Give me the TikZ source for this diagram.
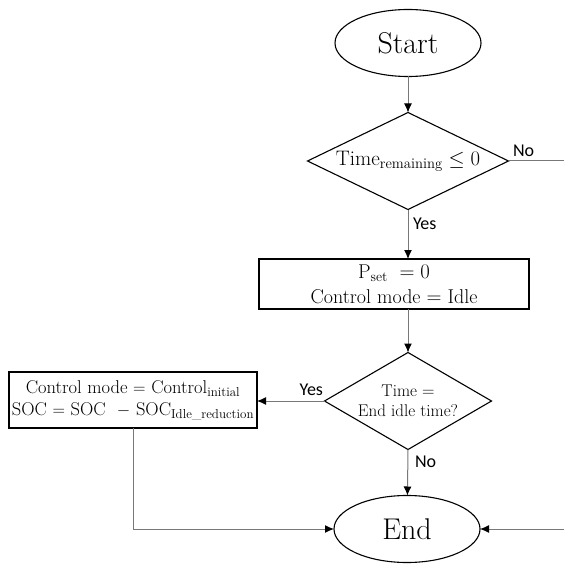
\documentclass[tikz,border=0pt]{standalone}
\usepackage{fontspec}
\usepackage{amsmath}
\newfontfamily\lblfont{Carlito}
\usetikzlibrary{shapes.geometric,arrows.meta}
\begin{document}
\begin{tikzpicture}[x=1pt,y=-1pt,
  every node/.style={inner sep=0pt, outer sep=0pt},
  term/.style={draw=black, line width=1.1pt, ellipse, minimum width=146pt, minimum height=67pt, font=\fontsize{30}{32}\selectfont},
  proc/.style={draw=black, line width=1.1pt, rectangle, align=center},
  dec/.style={draw=black, line width=1.1pt, diamond},
  conn/.style={draw={rgb,255:red,120;green,120;blue,120}, line width=1pt},
  arr/.style={conn, -{Latex[black,length=9pt,width=8pt]}},
  lbl/.style={font=\lblfont\fontsize{18}{20}\selectfont}
]
\useasboundingbox (0,0) rectangle (564,564);
\node[term] (start) at (408,43) {Start};
\node[dec, minimum width=201pt, minimum height=97pt,
  label={[font=\fontsize{21}{24}\selectfont]center:{$\mathrm{Time}_{\mathrm{remaining}}\leq 0$}}] (d1) at (408,161) {};
\node[proc, minimum width=270pt, minimum height=50pt, font=\fontsize{20}{25}\selectfont] (r1) at (394,284)
  {$\mathrm{P}_{\mathrm{set}}\ = 0$\\ Control mode $=$ Idle};
\node[dec, minimum width=167pt, minimum height=97pt,
  label={[font=\fontsize{17}{20}\selectfont, align=center]center:{Time $=$\\ End idle time?}}] (d2) at (408,401) {};
\node[proc, minimum width=248pt, minimum height=56pt, font=\fontsize{18.5}{22}\selectfont] (r2) at (133,400)
  {Control mode $=$ Control$_{\mathrm{initial}}$\\ SOC $=$ SOC\ \ $-$ SOC$_{\text{Idle\_reduction}}$};
\node[term] (end) at (407,529) {End};
\coordinate (noR) at (564,161);
\coordinate (inR) at (564,529);

\draw[arr] (start) -- (d1);
\draw[arr] (d1.south) -- (r1.north -| d1.south);
\draw[arr] (r1.south -| d2.north) -- (d2.north);
\draw[arr] (d2.west) -- (r2.east |- d2.west);
\draw[arr] (d2.south) -- (end);
\draw[conn] (d1.east) -- (noR);
\draw[arr] (inR) -- (end.east);
\draw[arr] (r2.south) -- (r2.south |- end.west) -- (end.west);

\node[lbl, anchor=base west] (no1) at (513,157) {No};
\node[lbl, anchor=base west] (yes1) at (413,229) {Yes};
\node[lbl, anchor=base east] (yes2) at (323,395) {Yes};
\node[lbl, anchor=base west] (no2) at (415,467) {No};
\end{tikzpicture}
\end{document}
